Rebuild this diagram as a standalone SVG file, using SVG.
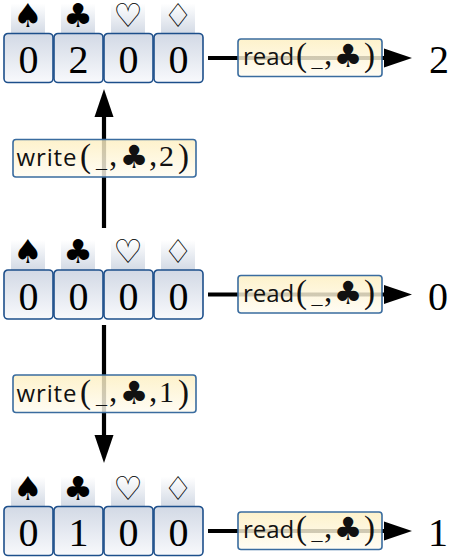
<svg xmlns="http://www.w3.org/2000/svg" width="451" height="559" viewBox="0 0 451 559">
<defs>
<linearGradient id="hdr" x1="0" y1="0" x2="0" y2="1"><stop offset="0" stop-color="#ffffff"/><stop offset="1" stop-color="#d3dae5"/></linearGradient>
<linearGradient id="cellg" x1="0" y1="0" x2="0" y2="1"><stop offset="0" stop-color="#d2d9e5"/><stop offset="1" stop-color="#f8f9fc"/></linearGradient>
<linearGradient id="boxg" x1="0" y1="0" x2="0" y2="1"><stop offset="0" stop-color="#fdefc0"/><stop offset="1" stop-color="#fffcf2"/></linearGradient>
<marker id="ah" viewBox="0 -10 28 20" refX="0" refY="0" markerWidth="28" markerHeight="20" markerUnits="userSpaceOnUse" orient="auto"><path d="M0,-9.5 L28,0 L0,9.5 z" fill="#000"/></marker>
<g id="row">
<rect class="hd" x="11" y="-30" width="34" height="30"/>
<rect class="hd" x="61" y="-30" width="34" height="30"/>
<rect class="hd" x="111" y="-30" width="34" height="30"/>
<rect class="hd" x="161" y="-30" width="34" height="30"/>
<text class="suit" x="28" y="-7">♠</text>
<text class="suit" x="78" y="-7">♣</text>
<text class="suit" x="128" y="-7">♡</text>
<text class="suit" x="178" y="-7">♢</text>
<rect class="cell" x="4" y="0" width="49" height="49" rx="4"/>
<rect class="cell" x="54" y="0" width="49" height="49" rx="4"/>
<rect class="cell" x="104" y="0" width="49" height="49" rx="4"/>
<rect class="cell" x="154" y="0" width="49" height="49" rx="4"/>
</g>
</defs>
<style>
.hd{fill:url(#hdr);}
.cell{fill:url(#cellg);stroke:#1d4f8b;stroke-width:1.6;}
.suit{font-family:"DejaVu Sans",sans-serif;font-size:33px;text-anchor:middle;fill:#000;}
.dig{font-family:"Liberation Serif",serif;font-size:40px;text-anchor:middle;fill:#000;}
.box{fill:url(#boxg);fill-opacity:0.82;stroke:#3a6c9f;stroke-width:1.6;}
.sans{font-family:"Open Sans",sans-serif;font-size:24px;fill:#111;}
.ser{font-family:"Liberation Serif",serif;font-size:33px;fill:#111;}
.sd{font-family:"Liberation Serif",serif;font-size:30px;fill:#111;}
.us{font-family:"Liberation Serif",serif;font-size:22px;fill:#111;text-anchor:middle;}
.cl{font-family:"DejaVu Sans",sans-serif;font-size:32px;fill:#111;text-anchor:middle;}
.con{stroke:#000;stroke-width:4.2;fill:none;marker-end:url(#ah);}
</style>
<g id="connectors">
<line class="con" x1="104" y1="228" x2="104" y2="117"/>
<line class="con" x1="104" y1="325" x2="104" y2="435"/>
<line class="con" x1="208" y1="58" x2="384" y2="58"/>
<line class="con" x1="208" y1="294.5" x2="384" y2="294.5"/>
<line class="con" x1="208" y1="531" x2="384" y2="531"/>
</g>
<g id="state-top" transform="translate(0,33.5)">
<use href="#row"/>
<text class="dig" x="28.5" y="39.5">0</text><text class="dig" x="78.5" y="39.5">2</text><text class="dig" x="128.5" y="39.5">0</text><text class="dig" x="178.5" y="39.5">0</text>
</g>
<g id="state-mid" transform="translate(0,270)">
<use href="#row"/>
<text class="dig" x="28.5" y="39.5">0</text><text class="dig" x="78.5" y="39.5">0</text><text class="dig" x="128.5" y="39.5">0</text><text class="dig" x="178.5" y="39.5">0</text>
</g>
<g id="state-bot" transform="translate(0,506.5)">
<use href="#row"/>
<text class="dig" x="28.5" y="39.5">0</text><text class="dig" x="78.5" y="39.5">1</text><text class="dig" x="128.5" y="39.5">0</text><text class="dig" x="178.5" y="39.5">0</text>
</g>
<g id="write-top">
<rect class="box" x="13" y="139.5" width="183" height="37.5" rx="3"/>
<text class="sans" x="16.5" y="166" textLength="60" lengthAdjust="spacing">write</text><text class="ser" x="80" y="167">(</text><text class="us" x="101.5" y="167">_</text><text class="ser" x="109" y="166">,</text><text class="cl" x="134" y="168">♣</text><text class="ser" x="149" y="166">,</text><text class="sd" x="159" y="166">2</text><text class="ser" x="178" y="167">)</text>
</g>
<g id="write-bot">
<rect class="box" x="13" y="375" width="183" height="37.5" rx="3"/>
<text class="sans" x="16.5" y="401.5" textLength="60" lengthAdjust="spacing">write</text><text class="ser" x="80" y="402.5">(</text><text class="us" x="101.5" y="402.5">_</text><text class="ser" x="109" y="401.5">,</text><text class="cl" x="134" y="403.5">♣</text><text class="ser" x="149" y="401.5">,</text><text class="sd" x="159" y="401.5">1</text><text class="ser" x="178" y="402.5">)</text>
</g>
<g id="read-top">
<rect class="box" x="238" y="39" width="144" height="37.5" rx="3"/>
<text class="sans" x="243" y="65">read</text><text class="ser" x="296" y="66">(</text><text class="us" x="317" y="66">_</text><text class="ser" x="324" y="65">,</text><text class="cl" x="348" y="67">♣</text><text class="ser" x="364" y="66">)</text>
</g>
<g id="read-mid">
<rect class="box" x="238" y="275.5" width="144" height="37.5" rx="3"/>
<text class="sans" x="243" y="301.5">read</text><text class="ser" x="296" y="302.5">(</text><text class="us" x="317" y="302.5">_</text><text class="ser" x="324" y="301.5">,</text><text class="cl" x="348" y="303.5">♣</text><text class="ser" x="364" y="302.5">)</text>
</g>
<g id="read-bot">
<rect class="box" x="238" y="512" width="144" height="37.5" rx="3"/>
<text class="sans" x="243" y="538">read</text><text class="ser" x="296" y="539">(</text><text class="us" x="317" y="539">_</text><text class="ser" x="324" y="538">,</text><text class="cl" x="348" y="540">♣</text><text class="ser" x="364" y="539">)</text>
</g>
<g id="result-top"><text class="dig" x="439" y="73">2</text></g>
<g id="result-mid"><text class="dig" x="438" y="309.5">0</text></g>
<g id="result-bot"><text class="dig" x="438" y="546">1</text></g>
</svg>
